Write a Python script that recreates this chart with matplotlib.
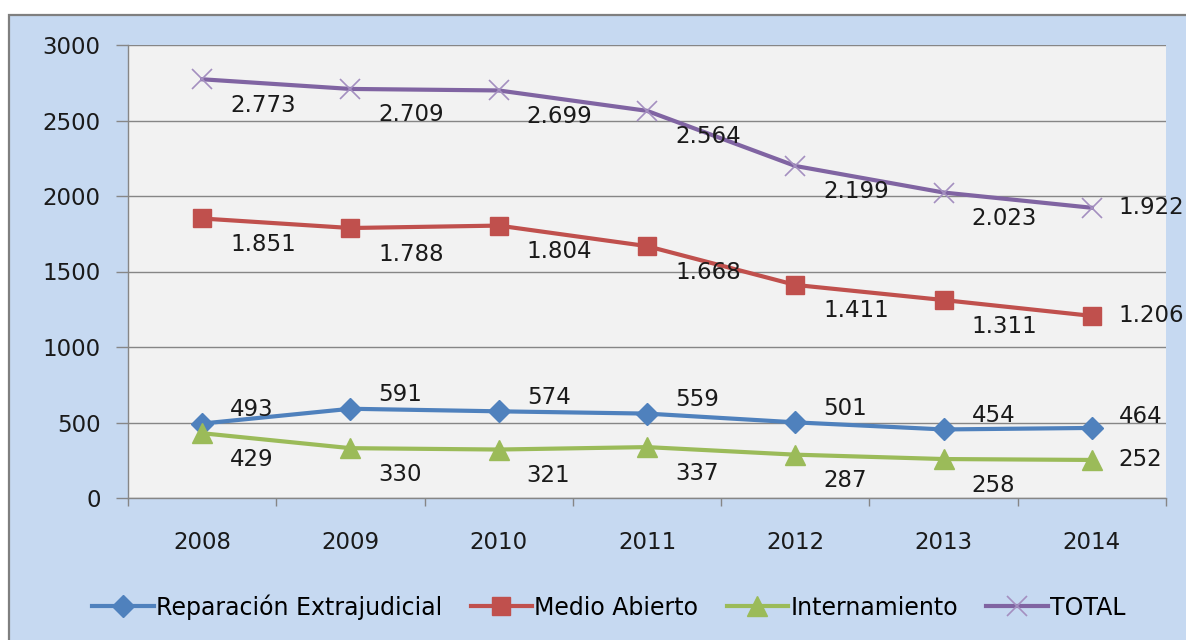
import matplotlib
matplotlib.use("Agg")
import matplotlib.pyplot as plt
from matplotlib.patches import Rectangle
import numpy as np

years = ["2008", "2009", "2010", "2011", "2012", "2013", "2014"]
reparacion = [493, 591, 574, 559, 501, 454, 464]
medio = [1851, 1788, 1804, 1668, 1411, 1311, 1206]
internamiento = [429, 330, 321, 337, 287, 258, 252]
total = [2773, 2709, 2699, 2564, 2199, 2023, 1922]
series_names = ["Reparación Extrajudicial", "Medio Abierto", "Internamiento", "TOTAL"]

def fmt(v):
    return f"{v:,}".replace(",", ".")

W, H = 1186, 640
fig = plt.figure(figsize=(W / 100, H / 100), dpi=100)
fig.patch.set_facecolor("white")
bg = Rectangle((9 / W, -0.1), 1.2, (H - 15) / H + 0.1, transform=fig.transFigure,
               facecolor="#C6D9F1", edgecolor="#7F7F7F", linewidth=1.6, zorder=-10)
fig.patches.append(bg)

ax = fig.add_axes([128 / W, 1 - 498 / H, (1166 - 128) / W, (498 - 45) / H])
ax.set_zorder(1)
ax.set_facecolor("#F2F2F2")
x = np.arange(len(years))

styles = [
    dict(color="#4F81BD", marker="D", markersize=11),
    dict(color="#C0504D", marker="s", markersize=13),
    dict(color="#9BBB59", marker="^", markersize=14),
    dict(color="#8064A2", marker="x", markersize=15, markeredgecolor="#A48FC0", markeredgewidth=1.2),
]
data = [reparacion, medio, internamiento, total]
for vals, st, name in zip(data, styles, series_names):
    ax.plot(x, vals, linewidth=3.0, label=name, zorder=3, **st)

fs = 16.5
for si, vals in enumerate(data):
    for i, v in enumerate(vals):
        if i == len(vals) - 1:
            dy = 11 if si == 0 else 0
            ax.annotate(fmt(v), (x[i], v), xytext=(27, dy), textcoords="offset pixels",
                        ha="left", va="center", fontsize=fs, color="#1A1A1A", zorder=4,
                        annotation_clip=False)
        elif si == 0:
            ax.annotate(fmt(v), (x[i], v), xytext=(28, 14), textcoords="offset pixels",
                        ha="left", va="center", fontsize=fs, color="#1A1A1A", zorder=4)
        else:
            ax.annotate(fmt(v), (x[i], v), xytext=(28, -26), textcoords="offset pixels",
                        ha="left", va="center", fontsize=fs, color="#1A1A1A", zorder=4)

ax.set_xlim(-0.5, len(years) - 0.5)
ax.set_ylim(0, 3000)
ax.set_yticks(np.arange(0, 3001, 500))
ax.yaxis.grid(True, color="#868686", linewidth=1.0)
ax.set_axisbelow(True)
ax.set_xticks(x)
ax.set_xticklabels(years)
ax.set_xticks(np.arange(-0.5, len(years)), minor=True)
ax.tick_params(axis="x", which="major", length=0, pad=24, labelsize=fs, colors="#1A1A1A")
ax.tick_params(axis="x", which="minor", length=6, width=1, color="#868686", direction="out")
ax.tick_params(axis="y", length=8.6, width=1, color="#868686", pad=11, labelsize=fs, labelcolor="#1A1A1A")
for s in ["top", "right"]:
    ax.spines[s].set_visible(False)
for s in ["left", "bottom"]:
    ax.spines[s].set_color("#868686")
    ax.spines[s].set_linewidth(1.0)

leg = fig.legend(loc="center", bbox_to_anchor=(609 / W, 1 - 607 / H), ncol=4, frameon=False,
                 prop={"size": 17}, handlelength=2.6, handletextpad=0.1, columnspacing=1.2)

fig.savefig("out.png", dpi=100, facecolor=fig.get_facecolor())
